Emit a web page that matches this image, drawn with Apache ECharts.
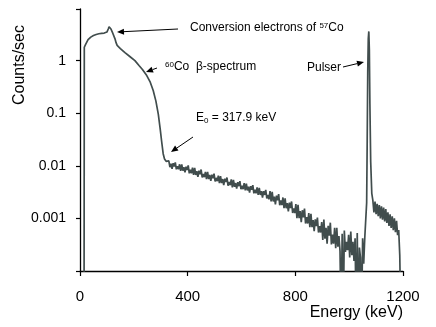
<!DOCTYPE html>
<html>
<head>
<meta charset="utf-8">
<script src="https://cdn.jsdelivr.net/npm/echarts@6/dist/echarts.min.js"></script>
<style>
  html, body { margin: 0; padding: 0; background: #fff; }
  #chart { width: 436px; height: 327px; }
</style>
</head>
<body>
<div id="chart"></div>
<script>
// x ticks (keV) and y tick labels per decade (1e-4 .. 1)
var xTicks = [0, 400, 800, 1200];
var yTickLabels = {"-4": "", "-3": "0.001", "-2": "0.01", "-1": "0.1", "0": "1"};

// 60Co beta spectrum + 57Co conversion electrons (smooth part)
var betaE = [15, 16, 20, 30, 40, 50, 60, 70, 80, 90, 100, 105, 108, 111, 115, 120, 124, 127, 130, 134, 138, 142, 150, 167, 185, 204, 220, 232, 248, 260, 272, 282, 291, 298, 303, 309, 314, 320, 326];
var betaC = [0.00001, 1.8, 2.0, 2.5, 2.8, 3.0, 3.15, 3.25, 3.3, 3.35, 3.5, 4.0, 4.4, 4.7, 4.0, 3.5, 3.7, 3.6, 2.6, 2.2, 1.95, 1.85, 1.7, 1.42, 1.2, 1.0, 0.8, 0.68, 0.52, 0.4, 0.27, 0.17, 0.095, 0.05, 0.03, 0.017, 0.0135, 0.0122, 0.0112];

// noisy tail of the spectrum up to the pulser
var tailE = [330, 334, 338, 342, 346, 350, 354, 358, 362, 366, 370, 374, 378, 382, 386, 390, 394, 398,
    402, 406, 410, 414, 418, 422, 426, 430, 434, 438, 442, 446, 450, 454, 458, 462, 466, 470, 474, 478, 482, 486, 490, 494, 498,
    502, 506, 510, 514, 518, 522, 526, 530, 534, 538, 542, 546, 550, 554, 558, 562, 566, 570, 574, 578, 582, 586, 590, 594, 598,
    602, 606, 610, 614, 618, 622, 626, 630, 634, 638, 642, 646, 650, 654, 658, 662, 666, 670, 674, 678, 682, 686, 690, 694, 698,
    702, 706, 710, 714, 718, 722, 726, 730, 734, 738, 742, 746, 750, 754, 758, 762, 766, 770, 774, 778, 782, 786, 790, 794, 798,
    802, 806, 810, 814, 818, 822, 826, 830, 834, 838, 842, 846, 850, 854, 858, 862, 866, 870, 874, 878, 882, 886, 890, 894, 898,
    902, 906, 910, 914, 918, 922, 926, 930, 934, 938, 942, 946, 950, 954, 958, 962, 966, 970, 974, 978, 982, 986, 990, 994, 998,
    1002, 1006, 1010, 1014, 1018, 1022, 1026, 1030, 1034, 1038, 1042, 1046, 1050, 1054, 1058];
var tailC = [0.0124, 0.00944, 0.0110, 0.00877, 0.0112, 0.0097, 0.0116, 0.0086, 0.0098, 0.0086, 0.0107, 0.0080, 0.0106, 0.0081, 0.0094, 0.0075, 0.0096, 0.0083,
    0.0102, 0.0072, 0.0084, 0.0072, 0.0092, 0.0067, 0.0091, 0.0067, 0.0079, 0.0062, 0.0081, 0.0069, 0.0085, 0.0060, 0.0070, 0.0061, 0.0077, 0.0056, 0.0077, 0.0056, 0.0067, 0.0052, 0.0068, 0.0058, 0.0071,
    0.00505, 0.0059, 0.0051, 0.0065, 0.0047, 0.0064, 0.0047, 0.0056, 0.0043, 0.0057, 0.0049, 0.0060, 0.0042, 0.0049, 0.0043, 0.0055, 0.0039, 0.0054, 0.0040, 0.0047, 0.0037, 0.0049, 0.0041, 0.0051, 0.0036,
    0.0042, 0.0036, 0.0047, 0.0034, 0.0046, 0.0034, 0.0040, 0.0031, 0.0041, 0.0035, 0.0043, 0.0030, 0.0035, 0.0030, 0.0039, 0.0028, 0.0038, 0.0028, 0.0033, 0.0025, 0.0033, 0.0028, 0.0035, 0.0024, 0.0028,
    0.0023, 0.0033, 0.0021, 0.0032, 0.0021, 0.0026, 0.00185, 0.0027, 0.0022, 0.0029, 0.00178, 0.0022, 0.00179, 0.0025, 0.00157, 0.0024, 0.00156, 0.00195, 0.00136, 0.0020, 0.00157, 0.0021, 0.00127, 0.00155, 0.00126,
    0.00188, 0.00101, 0.00182, 0.00101, 0.00138, 0.00085, 0.00143, 0.00105, 0.00154, 0.00080, 0.00106, 0.00080, 0.00126, 0.00068, 0.00122, 0.00068, 0.00093, 0.00057, 0.00096, 0.00071, 0.00104, 0.00054, 0.00071, 0.00054, 0.00085,
    0.00039, 0.00095, 0.00041, 0.00066, 0.00033, 0.00072, 0.00047, 0.00083, 0.00032, 0.00049, 0.00033, 0.00066, 0.00027, 0.00066, 0.00029, 0.00046, 0.00024, 0.00001, 0.00051, 0.00001, 0.00059, 0.00023, 0.00036, 0.00025, 0.00049,
    0.00018, 0.00056, 0.00020, 0.00036, 0.000155, 0.00042, 0.00001, 0.00053, 0.00001, 0.00028, 0.00018, 0.00001, 0.00042, 0.000137, 0.00043];

// pulser peak and the shoulder to its right
var pulserE = [1062, 1065, 1067, 1069, 1071, 1073, 1075, 1077, 1080, 1084, 1088, 1092, 1096, 1100, 1104, 1108, 1112, 1116, 1120, 1124, 1128, 1132, 1136, 1140, 1144, 1148, 1152, 1156, 1160, 1164, 1168, 1172, 1176, 1180, 1184, 1188, 1192];
var pulserC = [0.0004, 0.002, 0.03, 0.6, 2.6, 3.6, 1.6, 0.15, 0.012, 0.003, 0.0022, 0.0013, 0.0021, 0.0012, 0.0019, 0.0011, 0.0018, 0.0010, 0.0017, 0.00095, 0.0016, 0.00088, 0.0015, 0.00082, 0.0013, 0.00072, 0.0012, 0.00066, 0.0011, 0.00060, 0.00100, 0.00055, 0.00090, 0.00048, 0.00060, 0.0002, 0.00001];

var energy = betaE.concat(tailE, pulserE);
var counts = betaC.concat(tailC, pulserC);
var spectrum = energy.map(function (e, i) { return [e, counts[i]]; });

var lineColor = "#414d4d";
var font = "Liberation Sans, Arial, sans-serif";

// arrow with a filled head at (x2, y2)
function arrow(x1, y1, x2, y2) {
    var dx = x2 - x1, dy = y2 - y1, len = Math.sqrt(dx * dx + dy * dy);
    var ux = dx / len, uy = dy / len, hl = 7, hw = 3;
    var bx = x2 - ux * hl, by = y2 - uy * hl;
    return [{
        type: "line", shape: {x1: x1, y1: y1, x2: bx, y2: by},
        style: {stroke: "#000", lineWidth: 1}
    }, {
        type: "polygon",
        shape: {points: [[x2, y2], [bx - uy * hw, by + ux * hw], [bx + uy * hw, by - ux * hw]]},
        style: {fill: "#000"}
    }];
}

function label(x, y, text, rich) {
    return {
        type: "text", x: x, y: y,
        style: {text: text, font: "12px " + font, fill: "#000", textVerticalAlign: "middle", rich: rich}
    };
}

var sup = {s: {fontSize: 8, fontFamily: font, verticalAlign: "top", padding: [0, 0, 5, 0]}, n: {fontSize: 12, fontFamily: font}};
var sub = {b: {fontSize: 8, fontFamily: font, padding: [5, 0, 0, 0]}, n: {fontSize: 12, fontFamily: font}};

var graphics = [].concat(
    arrow(178, 29, 117, 32),
    arrow(157, 68, 146, 72),
    arrow(193, 137, 171, 152),
    arrow(343, 67, 364, 62),
    [
        label(190, 28, "{n|Conversion electrons of }{s|57}{n|Co}", sup),
        label(165, 67, "{s|60}{n|Co  β-spectrum}", sup),
        label(196, 118, "{n|E}{b|0}{n| = 317.9 keV}", sub),
        label(307, 68, "{n|Pulser}", sup),
        {
            type: "text", x: 20, y: 65, rotation: Math.PI / 2,
            style: {text: "Counts/sec", font: "16px " + font, fill: "#000", textAlign: "center", textVerticalAlign: "middle"}
        }
    ]
);

var chart = echarts.init(document.getElementById("chart"), null, {renderer: "canvas"});
chart.setOption({
    animation: false,
    backgroundColor: "#fff",
    grid: {left: 80, right: 33, top: 9, bottom: 56, containLabel: false},
    xAxis: {
        type: "value", min: xTicks[0], max: xTicks[xTicks.length - 1], interval: 400,
        name: "Energy (keV)", nameLocation: "end", nameGap: 0,
        nameTextStyle: {fontSize: 16, fontFamily: font, color: "#000", align: "right", verticalAlign: "top", padding: [34, 0, 0, 0]},
        axisLine: {lineStyle: {color: "#000", width: 1.3}},
        axisTick: {show: true, length: 5, lineStyle: {color: "#000", width: 1.2}},
        axisLabel: {fontSize: 15, fontFamily: font, color: "#000", margin: 18, formatter: function (v) { return String(v); }},
        splitLine: {show: false}
    },
    yAxis: {
        type: "log", logBase: 10, min: 0.0001, max: 9.6,
        axisLine: {show: true, lineStyle: {color: "#000", width: 1.3}},
        axisTick: {show: true, length: 4, lineStyle: {color: "#000", width: 1.2}},
        axisLabel: {
            fontSize: 14, fontFamily: font, color: "#000", margin: 14,
            formatter: function (v) {
                var k = String(Math.round(Math.log10(v)));
                return yTickLabels[k] !== undefined ? yTickLabels[k] : "";
            }
        },
        splitLine: {show: false}
    },
    series: [{
        type: "line", data: spectrum, showSymbol: false, clip: true,
        lineStyle: {color: lineColor, width: 1.7}
    }],
    graphic: graphics
});
</script>
</body>
</html>
